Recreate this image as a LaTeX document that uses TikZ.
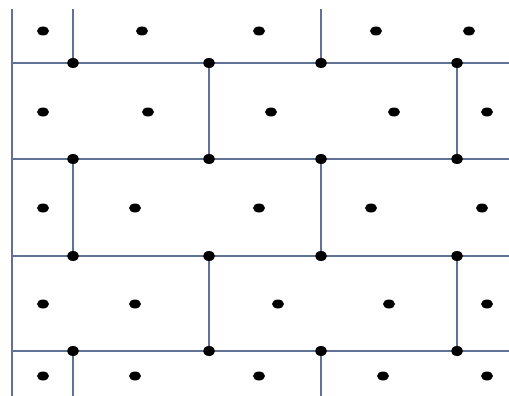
\documentclass[tikz,border=0pt]{standalone}
\usepackage{xcolor}
\usetikzlibrary{shapes.geometric}
\definecolor{wallc}{RGB}{98,114,150}

\begin{document}
\begin{tikzpicture}[x=1pt,y=-1pt,
  wall/.style={draw=wallc,line width=1.3pt},
  jn/.style={ellipse,fill=black,inner sep=0pt,minimum width=12pt,minimum height=10pt},
  ct/.style={ellipse,fill=black,inner sep=0pt,minimum width=12pt,minimum height=9pt}]
\useasboundingbox (0,0) rectangle (509,396);
% junctions
\foreach \r/\y in {1/63,2/159,3/256,4/351} {
  \foreach \c/\x in {1/73,2/209,3/321,4/457} {\node[jn] (j\r\c) at (\x,\y) {};}
  \coordinate (l\r) at (12,\y);
  \coordinate (e\r) at (509,\y);
}
\coordinate (top) at (12,9); \coordinate (bot) at (12,396);
\coordinate (t1) at (73,9); \coordinate (t3) at (321,9);
\coordinate (b1) at (73,396); \coordinate (b3) at (321,396);
% cell centres
\foreach \r/\y/\xs in {0/31/{43,142,259,376,469},1/112/{43,148,271,394,487},2/208/{43,135,259,371,482},3/304/{43,135,278,389,487},4/376/{43,135,259,383,487}} {
  \foreach \x [count=\k] in \xs {\node[ct] (c\r\k) at (\x,\y) {};}
}
% walls
\draw[wall] (top) -- (bot);
\foreach \r in {1,2,3,4} {\draw[wall] (l\r) -- (j\r1) -- (j\r2) -- (j\r3) -- (j\r4) -- (e\r);}
\draw[wall] (t1) -- (j11); \draw[wall] (t3) -- (j13);
\draw[wall] (j12) -- (j22); \draw[wall] (j14) -- (j24);
\draw[wall] (j21) -- (j31); \draw[wall] (j23) -- (j33);
\draw[wall] (j32) -- (j42); \draw[wall] (j34) -- (j44);
\draw[wall] (j41) -- (b1); \draw[wall] (j43) -- (b3);
\end{tikzpicture}
\end{document}
